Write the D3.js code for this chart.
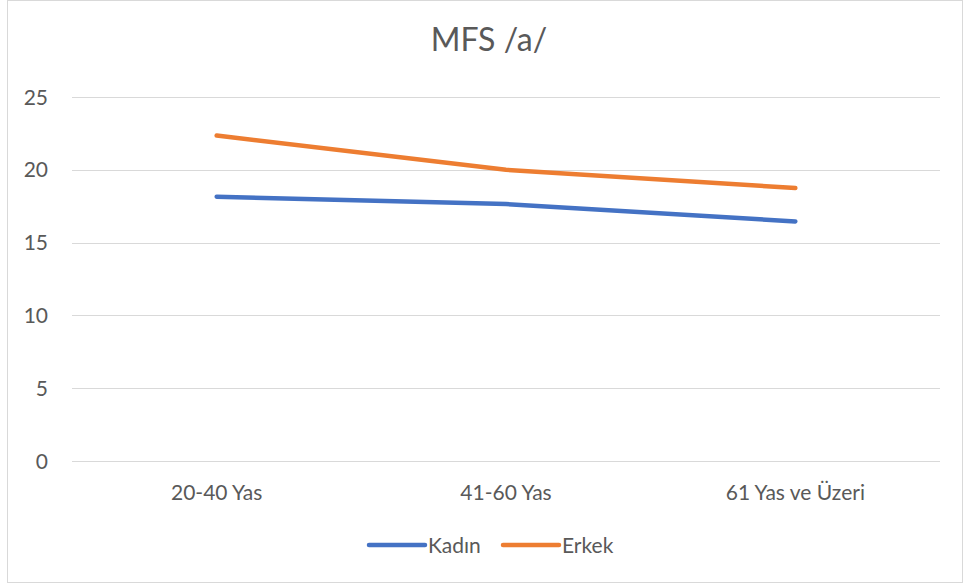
<!DOCTYPE html>
<html><head><meta charset="utf-8">
<script src="https://cdn.jsdelivr.net/npm/d3@7"></script>
<style>body{margin:0;background:#fff}svg{display:block}text{font-family:Lato,"Open Sans",sans-serif;fill:#595959}</style>
</head><body><svg id="c" width="963" height="586"></svg>
<script>
const categories = ["20-40 Yas", "41-60 Yas", "61 Yas ve Üzeri"];
const kadin = [18.15, 17.65, 16.45];
const erkek = [22.35, 20.0, 18.75];
const yTicks = [0, 5, 10, 15, 20, 25];
const seriesNames = ["Kadın", "Erkek"];
const colors = ["#4472C4", "#ED7D31"];

const svg = d3.select("#c");
svg.append("rect").attr("x", 7.5).attr("y", 0.5).attr("width", 955).attr("height", 582).attr("fill", "#fff").attr("stroke", "#d9d9d9");

const x = d3.scaleBand().domain(categories).range([72, 940]);
const y = d3.scaleLinear().domain([0, 25]).range([461, 97]);

svg.append("text").attr("x", 489).attr("y", 51).attr("text-anchor", "middle").style("font-size", "32px").text("MFS /a/");

const gy = svg.append("g");
yTicks.forEach(t => {
  gy.append("line").attr("x1", 72).attr("x2", 940).attr("y1", Math.round(y(t)) + 0.5).attr("y2", Math.round(y(t)) + 0.5).attr("stroke", "#d9d9d9");
  gy.append("text").attr("x", 48).attr("y", y(t) + 7.5).attr("text-anchor", "end").style("font-size", "21px").text(t);
});

categories.forEach(c => {
  svg.append("text").attr("x", x(c) + x.bandwidth() / 2).attr("y", 500).attr("text-anchor", "middle").style("font-size", "21px").text(c);
});

const line = d3.line().x((d, i) => x(categories[i]) + x.bandwidth() / 2).y(d => y(d));
[kadin, erkek].forEach((s, i) => {
  svg.append("path").attr("d", line(s)).attr("fill", "none").attr("stroke", colors[i]).attr("stroke-width", 4.5).attr("stroke-linecap", "round").attr("stroke-linejoin", "round");
});

const legX = [369, 503];
seriesNames.forEach((n, i) => {
  svg.append("line").attr("x1", legX[i]).attr("x2", legX[i] + 56).attr("y1", 545).attr("y2", 545).attr("stroke", colors[i]).attr("stroke-width", 4.5).attr("stroke-linecap", "round");
  svg.append("text").attr("x", legX[i] + 59).attr("y", 552.5).style("font-size", "21px").text(n);
});
</script></body></html>
